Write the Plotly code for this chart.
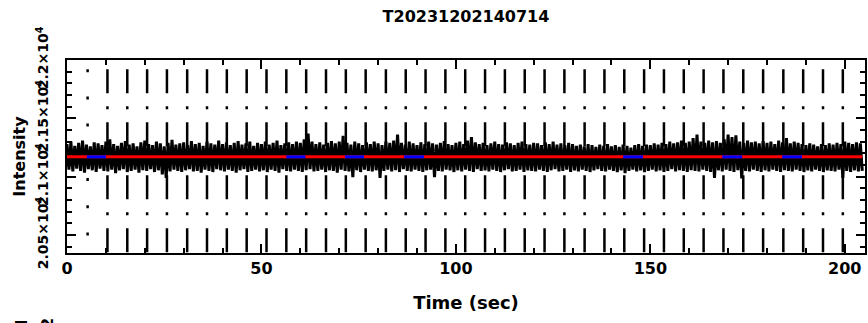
import plotly.graph_objects as go

# ---------------- data ----------------
chart_title = "T20231202140714"
x_label = "Time (sec)"
y_label = "Intensity"

sample_step = 0.5  # seconds between samples

# local maxima of the intensity trace (t = 0, 1, 2, ... s)
peak_values = [
    21280, 21300, 21265, 21290, 21310, 21275, 21260, 21295, 21285, 21270,
    21300, 21320, 21280, 21265, 21290, 21305, 21275, 21285, 21260, 21295,
    21310, 21280, 21270, 21300, 21285, 21260, 21290, 21315, 21275, 21285,
    21295, 21270, 21305, 21280, 21290, 21265, 21300, 21285, 21275, 21310,
    21280, 21295, 21270, 21290, 21305, 21275, 21285, 21300, 21265, 21290,
    21280, 21300, 21275, 21290, 21310, 21270, 21285, 21295, 21280, 21300,
    21290, 21320, 21370, 21300, 21280, 21295, 21275, 21290, 21305, 21285,
    21300, 21350, 21290, 21275, 21300, 21285, 21270, 21295, 21280, 21300,
    21285, 21270, 21300, 21290, 21310, 21360, 21290, 21275, 21300, 21285,
    21270, 21295, 21280, 21300, 21285, 21275, 21290, 21305, 21280, 21270,
    21290, 21300, 21280, 21310, 21340, 21295, 21280, 21290, 21270, 21285,
    21300, 21280, 21275, 21295, 21285, 21270, 21290, 21300, 21280, 21275,
    21290, 21285, 21270, 21295, 21280, 21300, 21275, 21285, 21270, 21290,
    21280, 21265, 21275, 21260, 21280, 21270, 21255, 21275, 21265, 21280,
    21260, 21270, 21255, 21275, 21265, 21250, 21270, 21280, 21265, 21275,
    21270, 21285, 21275, 21290, 21280, 21300, 21285, 21295, 21310, 21290,
    21300, 21330, 21360, 21300, 21290, 21310, 21295, 21305, 21290, 21320,
    21360, 21340, 21355, 21300, 21290, 21310, 21295, 21300, 21285, 21305,
    21290, 21300, 21280, 21310, 21295, 21330, 21285, 21300, 21290, 21280,
    21270, 21285, 21275, 21260, 21280, 21270, 21285, 21275, 21290, 21280,
    21300, 21290, 21280, 21295, 21285,
]
# local minima of the intensity trace (t = 0.5, 1.5, 2.5, ... s)
trough_values = [
    21060, 21045, 21070, 21050, 21035, 21065, 21055, 21040, 21070, 21050,
    21045, 21060, 21030, 21055, 21065, 21040, 21050, 21060, 21035, 21055,
    21050, 21065, 21040, 21055, 21020, 20990, 21045, 21060, 21050, 21040,
    21055, 21065, 21045, 21050, 21035, 21060, 21050, 21040, 21065, 21055,
    21045, 21060, 21050, 21035, 21055, 21065, 21040, 21050, 21060, 21045,
    21055, 21040, 21060, 21050, 21035, 21065, 21050, 21045, 21060, 21050,
    21040, 21055, 21065, 21045, 21050, 21060, 21040, 21055, 21050, 21035,
    21060, 21050, 21045, 20995, 21055, 21040, 21060, 21050, 21045, 21055,
    20990, 21050, 21060, 21045, 21055, 21040, 21065, 21050, 21045, 21060,
    21050, 21040, 21055, 21060, 20995, 21050, 21045, 21060, 21055, 21040,
    21055, 21045, 21060, 21050, 21040, 21065, 21050, 21055, 21045, 21060,
    21050, 21040, 21055, 21065, 21045, 21050, 21060, 21040, 21055, 21050,
    21045, 21060, 21050, 21040, 21055, 21065, 21045, 21050, 21060, 21040,
    21055, 21045, 21060, 21050, 21040, 21055, 21065, 21050, 21045, 21060,
    21050, 21040, 21055, 21030, 21050, 21060, 21045, 21055, 21040, 21050,
    21060, 21045, 21055, 21040, 21050, 21065, 21045, 21055, 21050, 21040,
    21055, 21050, 21045, 21060, 21050, 21040, 20990, 21055, 21045, 21060,
    21050, 21040, 21055, 20985, 21050, 21045, 21060, 21050, 21040, 21055,
    21045, 21060, 21050, 21040, 21055, 21050, 21045, 21060, 21050, 21040,
    21055, 21045, 21060, 21050, 21040, 21055, 21050, 21045, 21060, 20990,
    21050, 21040, 21055, 21045, 21050,
]

mean_level = 21170

# time markers (vertical lines)
marker_first = [5.3]
marker_times = [10.4, 15.5, 20.6, 25.7, 30.9, 36.0, 41.1, 46.2, 51.3, 56.4,
                61.5, 66.6, 71.7, 76.8, 82.0, 87.1, 92.2, 97.3, 102.4, 107.5,
                112.6, 117.7, 122.8, 127.9, 133.1, 138.2, 143.3, 148.4, 153.5,
                158.6, 163.7, 168.8, 173.9, 179.0, 184.2, 189.3, 194.4, 199.5]

# flagged intervals (blue)
flag_start = [5.1, 56.4, 71.5, 86.7, 143.0, 168.5, 183.9]
flag_end = [10.0, 61.3, 76.4, 91.8, 148.1, 173.6, 189.0]

x_range = [0, 205.2]
y_range = [20346, 22000]
x_tick_vals = [0, 50, 100, 150, 200]
x_tick_text = ["0", "50", "100", "150", "200"]
y_tick_vals = [20500, 21000, 21500, 22000]
y_tick_text = ["2.05×10<sup>4</sup>", "2.1×10<sup>4</sup>",
               "2.15×10<sup>4</sup>", "2.2×10<sup>4</sup>"]

# clipped fragments of the next panel's labels at the bottom edge
fragment_texts = ["I", "2"]

# ---------------- build ----------------
intensity = [v for pair in zip(peak_values, trough_values) for v in pair]
times = [i * sample_step for i in range(len(intensity))]

FONT = "DejaVu Sans"
FIG_W, FIG_H = 868, 323

fig = go.Figure()


def vlines(xs):
    vx, vy = [], []
    for x in xs:
        vx += [x, x, None]
        vy += [y_range[1], y_range[0], None]
    return vx, vy


vx, vy = vlines(marker_first)
fig.add_trace(go.Scatter(x=vx, y=vy, mode="lines", hoverinfo="skip",
                         line=dict(color="black", width=2.5,
                                   dash="0px,9.2px,3px,15px")))
vx, vy = vlines(marker_times)
fig.add_trace(go.Scatter(x=vx, y=vy, mode="lines", hoverinfo="skip",
                         line=dict(color="black", width=2.5,
                                   dash="0px,9.3px,24px,13px,3px,3.7px")))

fig.add_trace(go.Scatter(x=times, y=intensity, mode="lines",
                         line=dict(color="black", width=3)))

fig.add_trace(go.Scatter(x=[times[0], times[-1]], y=[mean_level, mean_level],
                         mode="lines", line=dict(color="#ff0000", width=3)))

fx, fy = [], []
for s, e in zip(flag_start, flag_end):
    fx += [s, e, None]
    fy += [mean_level, mean_level, None]
fig.add_trace(go.Scatter(x=fx, y=fy, mode="lines",
                         line=dict(color="#0000ff", width=3)))

axis_common = dict(
    showgrid=False, zeroline=False, showline=True, linecolor="black",
    linewidth=2, mirror="allticks", ticks="inside", tickcolor="black",
    tickwidth=2, automargin=False,
)

fig.update_layout(
    width=FIG_W, height=FIG_H,
    margin=dict(l=67, r=3, t=60, b=70, autoexpand=False),
    paper_bgcolor="white", plot_bgcolor="white",
    showlegend=False,
    font=dict(family=FONT, color="black", size=16, weight="bold"),
    title=dict(text=chart_title, x=466 / FIG_W, xanchor="center",
               y=1 - 16 / FIG_H, yanchor="middle", automargin=False,
               font=dict(family=FONT, size=16, color="black", weight="bold")),
    xaxis=dict(
        range=x_range, tickvals=x_tick_vals, ticktext=x_tick_text,
        ticklen=9,
        minor=dict(dtick=10, ticks="inside", ticklen=5, tickcolor="black",
                   tickwidth=2, showgrid=False),
        tickfont=dict(family=FONT, size=16, weight="bold"),
        title=dict(text=x_label, standoff=19,
                   font=dict(family=FONT, size=18, weight="bold")),
        **axis_common,
    ),
    yaxis=dict(
        range=y_range, tickvals=y_tick_vals, ticktext=y_tick_text,
        ticklen=9, tickangle=-90, ticklabelstandoff=11,
        minor=dict(dtick=100, ticks="inside", ticklen=5, tickcolor="black",
                   tickwidth=2, showgrid=False),
        tickfont=dict(family=FONT, size=14, weight="bold"),
        title=dict(text=y_label, standoff=4,
                   font=dict(family=FONT, size=16, weight="bold")),
        **axis_common,
    ),
)

fig.add_annotation(text=fragment_texts[0], xref="paper", yref="paper",
                   x=(21 - 67) / 798, y=(253 - 322.5) / 193, textangle=-90,
                   xanchor="center", yanchor="middle", showarrow=False,
                   font=dict(family=FONT, size=16, weight="bold"))
fig.add_annotation(text=fragment_texts[1], xref="paper", yref="paper",
                   x=(47 - 67) / 798, y=(253 - 324) / 193, textangle=-90,
                   xanchor="center", yanchor="middle", showarrow=False,
                   font=dict(family=FONT, size=16, weight="bold"))

# remove the browser's default 8px page margin so the figure fills the window
fig.write_html(
    "out.html",
    config={"displayModeBar": False},
    post_script="document.body.style.margin='0';"
                "document.body.style.overflow='hidden';",
)
